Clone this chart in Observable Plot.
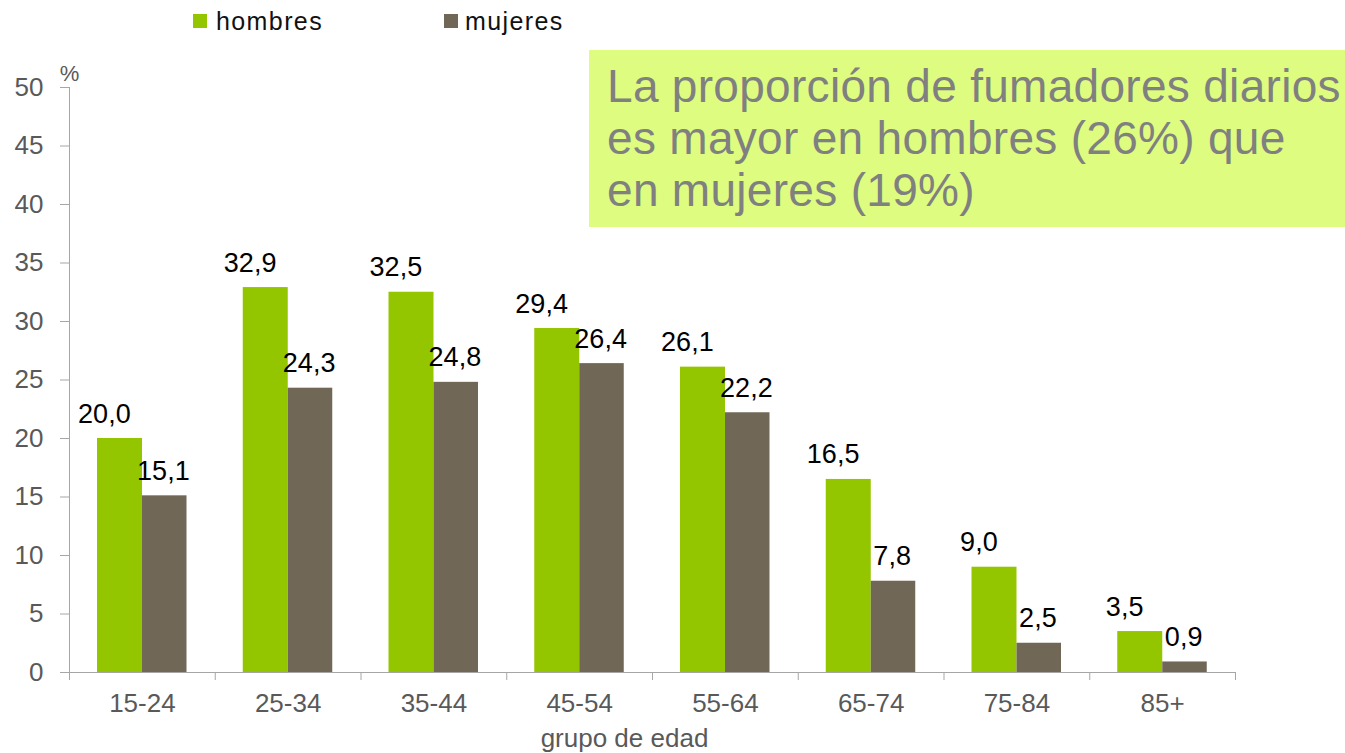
<!DOCTYPE html>
<html>
<head>
<meta charset="utf-8">
<script src="https://cdn.jsdelivr.net/npm/d3@7"></script>
<script src="https://cdn.jsdelivr.net/npm/@observablehq/plot@0.6"></script>
<style>
  body { margin: 0; background: #fff; font-family: "Liberation Sans", Arial, sans-serif; }
  #wrap { position: relative; width: 1345px; height: 753px; overflow: hidden; }
  #legend { position: relative; height: 40px; }
  .sw { position: absolute; top: 14px; width: 14px; height: 14px; }
  .lt { position: absolute; top: 9px; font-size: 25px; line-height: 25px; letter-spacing: 1.4px; color: #111; white-space: nowrap; }
  #note { position: absolute; left: 589px; top: 50px; width: 756px; height: 177px; box-sizing: border-box;
          padding: 10px 0 0 18px; background: #ddfc80; color: #808080; font-size: 46px; line-height: 52px;
          letter-spacing: 0.3px; white-space: nowrap; }
</style>
</head>
<body>
<div id="wrap">
  <div id="legend"></div>
  <div id="chart"></div>
  <div id="note"></div>
</div>
<script>
// ---- data ----
const categories = ["15-24", "25-34", "35-44", "45-54", "55-64", "65-74", "75-84", "85+"];
const hombres = [20.0, 32.9, 32.5, 29.4, 26.1, 16.5, 9.0, 3.5];
const mujeres = [15.1, 24.3, 24.8, 26.4, 22.2, 7.8, 2.5, 0.9];
const series = ["hombres", "mujeres"];
const colors = ["#94c600", "#716757"];
const yTicks = [0, 5, 10, 15, 20, 25, 30, 35, 40, 45, 50];
const xLabel = "grupo de edad";
const yLabel = "%";
const noteLines = [
  "La proporción de fumadores diarios",
  "es mayor en hombres (26%) que",
  "en mujeres (19%)"
];

// ---- build rows ----
const rowsH = categories.map((c, i) => ({grupo: c, sexo: series[0], valor: hombres[i]}));
const rowsM = categories.map((c, i) => ({grupo: c, sexo: series[1], valor: mujeres[i]}));
const fmt = v => d3.format(".1f")(v).replace(".", ",");

// ---- legend ----
const legend = document.getElementById("legend");
const legendPos = [{sw: 193, tx: 216}, {sw: 444, tx: 465}];
series.forEach((s, i) => {
  const sw = document.createElement("div");
  sw.className = "sw"; sw.style.left = legendPos[i].sw + "px"; sw.style.background = colors[i];
  const t = document.createElement("span");
  t.className = "lt"; t.style.left = legendPos[i].tx + "px"; t.textContent = s;
  legend.appendChild(sw); legend.appendChild(t);
});

// ---- note ----
document.getElementById("note").innerHTML = noteLines.map(l => `<div>${l}</div>`).join("");

// ---- chart ----
const W = 1345, H = 713, mL = 69, mR = 110, mT = 47, mB = 81;
const bw = (W - mL - mR) / categories.length;
const axisGray = "#a6a6a6", textGray = "#595959";
const font = "'Liberation Sans', Arial, sans-serif";

const chart = Plot.plot({
  width: W, height: H,
  marginLeft: mL, marginRight: mR, marginTop: mT, marginBottom: mB,
  style: {fontFamily: font, background: "transparent", overflow: "visible"},
  x: {domain: categories, padding: 0, round: false, label: null},
  y: {domain: [0, 50], label: null},
  marks: [
    Plot.barY(rowsH, {x: "grupo", y: "valor", fill: colors[0], insetLeft: 28, insetRight: bw - 73}),
    Plot.barY(rowsM, {x: "grupo", y: "valor", fill: colors[1], insetLeft: 73, insetRight: bw - 117.5}),
    Plot.frame({anchor: "left", stroke: axisGray}),
    Plot.ruleY([0], {stroke: axisGray}),
    Plot.axisY({ticks: yTicks, tickSize: 9, tickPadding: 17, fontSize: 26, fill: textGray, stroke: axisGray, label: null}),
    Plot.axisX({tickSize: 0, tickPadding: 21, fontSize: 26, fill: textGray, label: null}),
    Plot.axisX({tickSize: 8, tickFormat: () => "", dx: -bw / 2, stroke: axisGray, label: null}),
    Plot.axisX({ticks: [categories[categories.length - 1]], tickSize: 8, tickFormat: () => "", dx: bw / 2, stroke: axisGray, label: null}),
    Plot.text(rowsH, {x: "grupo", y: "valor", text: d => fmt(d.valor), dx: -38, dy: -16, lineAnchor: "bottom", fontSize: 27, fill: "#000"}),
    Plot.text(rowsM, {x: "grupo", y: "valor", text: d => fmt(d.valor), dx: 21, dy: -16, lineAnchor: "bottom", fontSize: 27, fill: "#000"}),
    Plot.text([yLabel], {text: d => d, frameAnchor: "top-left", lineAnchor: "middle", textAnchor: "middle", dy: -14, fontSize: 22, fill: textGray}),
    Plot.text([xLabel], {text: d => d, frameAnchor: "bottom", lineAnchor: "middle", textAnchor: "middle", dx: -28, dy: 66, fontSize: 26, fill: textGray})
  ]
});
document.getElementById("chart").appendChild(chart);
</script>
</body>
</html>
